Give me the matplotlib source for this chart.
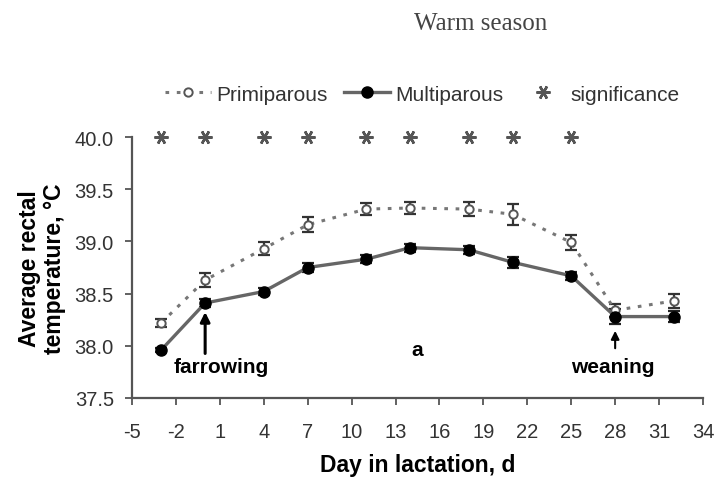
import matplotlib
matplotlib.use("Agg")
import matplotlib.pyplot as plt
import numpy as np

# Day in lactation and mean rectal temperature (°C) with SE
days = [-3, 0, 4, 7, 11, 14, 18, 21, 25, 28, 32]
primiparous = [38.22, 38.63, 38.93, 39.16, 39.31, 39.32, 39.31, 39.26, 38.99, 38.34, 38.43]
primiparous_se = [0.04, 0.07, 0.06, 0.07, 0.06, 0.06, 0.07, 0.10, 0.07, 0.06, 0.07]
multiparous = [37.96, 38.41, 38.52, 38.75, 38.83, 38.94, 38.92, 38.80, 38.67, 38.28, 38.28]
multiparous_se = [0.02, 0.04, 0.03, 0.04, 0.04, 0.04, 0.04, 0.05, 0.04, 0.07, 0.05]
significant_days = [-3, 0, 4, 7, 11, 14, 18, 21, 25]
significance_level = 40.0

x_ticks = list(range(-5, 35, 3))
y_ticks = [37.5, 38.0, 38.5, 39.0, 39.5, 40.0]

plt.rcParams["font.family"] = ["Liberation Sans", "DejaVu Sans"]
plt.rcParams["axes.unicode_minus"] = False

fig = plt.figure(figsize=(7.17, 4.81), dpi=100)
ax = fig.add_axes([0.184, 0.1705, 0.7965, 0.5425])

grey = "#555555"

ax.errorbar(days, primiparous, yerr=primiparous_se, fmt="none",
            ecolor="#333333", elinewidth=1.6, capsize=4, capthick=1.6, zorder=3)
p_line, = ax.plot(days, primiparous, linestyle=(0, (1.2, 2.5)), color="#777777",
                  linewidth=2.2, marker="o", markersize=6, markerfacecolor="white",
                  markeredgecolor="#555555", markeredgewidth=1.4, zorder=4)

ax.errorbar(days, multiparous, yerr=multiparous_se, fmt="none",
            ecolor="#222222", elinewidth=1.6, capsize=4, capthick=1.6, zorder=3)
m_line, = ax.plot(days, multiparous, linestyle="-", color="#666666",
                  linewidth=2.4, marker="o", markersize=8, markerfacecolor="black",
                  markeredgecolor="black", zorder=5)

s_pts, = ax.plot(significant_days, [significance_level] * len(significant_days),
                 linestyle="none", marker=(6, 2, 90), markersize=10,
                 markeredgecolor="#555555", markeredgewidth=1.8, clip_on=False, zorder=6)

ax.set_xlim(-5, 34)
ax.set_ylim(37.5, 40.0)
ax.set_xticks(x_ticks)
ax.set_yticks(y_ticks)
ax.set_yticklabels([f"{v:.1f}" for v in y_ticks])
ax.tick_params(axis="both", labelsize=14.5, labelcolor="#333333", color=grey,
               length=5, width=1.3)
ax.tick_params(axis="x", pad=12)
ax.tick_params(axis="y", pad=8)
for side in ("top", "right"):
    ax.spines[side].set_visible(False)
for side in ("left", "bottom"):
    ax.spines[side].set_color(grey)
    ax.spines[side].set_linewidth(1.6)

ax.set_xlabel("Day in lactation, d", fontsize=16.5, fontweight="bold", labelpad=9)
ax.set_ylabel("Average rectal\ntemperature, °C", fontsize=16.5, fontweight="bold",
              labelpad=6, linespacing=1.15)

# Event markers
ax.annotate("", xy=(0, 38.35), xytext=(0, 37.90),
            arrowprops=dict(arrowstyle="-|>", color="black", lw=2.2, mutation_scale=14))
ax.text(1.1, 37.80, "farrowing", fontsize=15, fontweight="bold", ha="center", va="center")
ax.annotate("", xy=(28, 38.17), xytext=(28, 37.95),
            arrowprops=dict(arrowstyle="-|>", color="black", lw=1.5, mutation_scale=12))
ax.text(27.85, 37.80, "weaning", fontsize=15, fontweight="bold", ha="center", va="center")
ax.text(14.5, 37.96, "a", fontsize=15, fontweight="bold", ha="center", va="center")

fig.legend([p_line, m_line, s_pts], ["Primiparous", "Multiparous", "significance"],
           loc="center", bbox_to_anchor=(0.589, 0.802), ncol=3, frameon=False,
           fontsize=15, handlelength=2.2, columnspacing=0.8, handletextpad=0.25,
           labelcolor="#333333")

fig.text(0.67, 0.95, "Warm season", fontsize=18, family=["Liberation Serif"],
         color="#444444", ha="center", va="center")

fig.savefig("out.png", dpi=100)
